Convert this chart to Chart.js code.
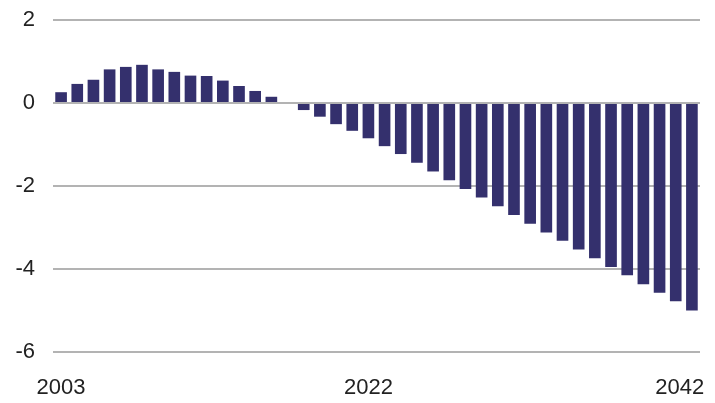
<!DOCTYPE html>
<html>
<head>
<meta charset="utf-8">
<script src="https://cdn.jsdelivr.net/npm/chart.js@4"></script>
<style>
  html, body { margin: 0; padding: 0; background: #fff; }
  #wrap { width: 715px; height: 403px; position: relative; }
</style>
</head>
<body>
<div id="wrap"><canvas id="myChart"></canvas></div>
<script>
var years = [];
for (var y = 2003; y <= 2042; y++) years.push(String(y));

var values = [0.26, 0.46, 0.56, 0.81, 0.87, 0.92, 0.81, 0.75, 0.66, 0.65,
              0.54, 0.41, 0.29, 0.15, 0, -0.17, -0.33, -0.51, -0.67, -0.85,
              -1.04, -1.23, -1.44, -1.65, -1.86, -2.07, -2.28, -2.49, -2.70, -2.91,
              -3.12, -3.32, -3.53, -3.74, -3.95, -4.15, -4.37, -4.57, -4.78, -5.00];

var shownYears = ['2003', '2022', '2042'];
var yTicks = [2, 0, -2, -4, -6];

var ctx = document.getElementById('myChart').getContext('2d');
var chart = new Chart(ctx, {
    type: 'bar',
    data: {
        labels: years,
        datasets: [{
            data: values,
            backgroundColor: '#34306d',
            borderWidth: 0,
            barPercentage: 0.72,
            categoryPercentage: 1
        }]
    },
    options: {
        responsive: true,
        maintainAspectRatio: false,
        animation: false,
        layout: { padding: { top: 20, right: 15, left: 15, bottom: 0 } },
        plugins: { legend: { display: false }, tooltip: { enabled: false } },
        scales: {
            x: {
                grid: { display: false, drawTicks: false },
                border: { display: false },
                afterFit: function(s) {
                    s.height = 51;
                    s.paddingLeft = 0;
                    s.paddingRight = 0;
                },
                ticks: {
                    autoSkip: false,
                    maxRotation: 0,
                    padding: 23,
                    color: '#222',
                    font: { family: 'Liberation Sans', size: 22 },
                    callback: function(v, i) {
                        if (shownYears.indexOf(years[i]) < 0) return '';
                        // last label sits flush with the plot edge
                        return i === years.length - 1 ? years[i] + '    ' : years[i];
                    }
                }
            },
            y: {
                min: -6,
                max: 2,
                afterBuildTicks: function(axis) {
                    axis.ticks = yTicks.map(function(v) { return { value: v }; });
                },
                afterFit: function(s) {
                    s.width = 38;
                    s.paddingTop = 0;
                    s.paddingBottom = 0;
                },
                grid: { color: '#b3b3b3', lineWidth: 2, drawTicks: false },
                border: { display: false },
                ticks: {
                    padding: 18,
                    color: '#222',
                    font: { family: 'Liberation Sans', size: 22 }
                }
            }
        }
    }
});
</script>
</body>
</html>
